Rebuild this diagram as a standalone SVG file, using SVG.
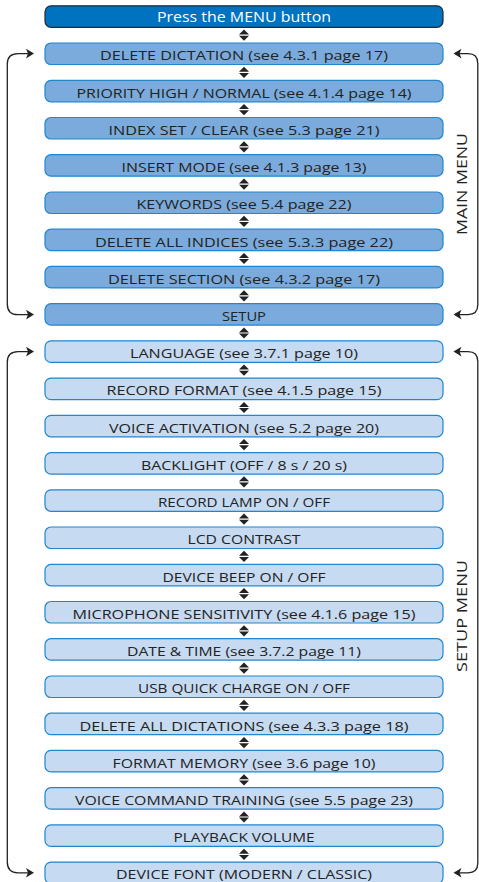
<svg xmlns="http://www.w3.org/2000/svg" xmlns:xlink="http://www.w3.org/1999/xlink" width="479" height="882" viewBox="0 0 479 882">
<style>
.bx rect{stroke:#1f86cf;stroke-width:1.2}
.main rect{fill:#7aabdc}
.setup rect{fill:#c6daf1}
.top rect{fill:#0073c0;stroke:#1d2b3a}
text{font-family:"Open Sans","Liberation Sans",sans-serif;font-size:13.5px;fill:#222;text-anchor:middle}
.top text{fill:#fff;font-size:15px}
.side{font-size:14px}
.con path{fill:none;stroke:#222;stroke-width:1.3}
.ah{fill:#222;stroke:none}
</style>
<defs>
<g id="dbl"><polygon points="-5,-0.6 5,-0.6 0,-5.6" fill="#222"/><polygon points="-5,0.6 5,0.6 0,5.6" fill="#222"/></g>
<polygon id="ahr" points="0,0 -8,-4.8 -6,0 -8,4.8" class="ah"/>
<polygon id="ahl" points="0,0 8,-4.8 6,0 8,4.8" class="ah"/>
</defs>
<g id="n0" class="bx top"><rect x="45" y="5.8" width="398" height="21.5" rx="6"/><text x="244" y="22.3" textLength="174" lengthAdjust="spacingAndGlyphs">Press the MENU button</text></g>
<g id="n1" class="bx main"><rect x="45" y="43" width="398" height="21.5" rx="6"/><text x="244" y="60.3" textLength="288" lengthAdjust="spacingAndGlyphs">DELETE DICTATION (see 4.3.1 page 17)</text></g>
<g id="n2" class="bx main"><rect x="45" y="80.3" width="398" height="21.5" rx="6"/><text x="244" y="97.6" textLength="335" lengthAdjust="spacingAndGlyphs">PRIORITY HIGH / NORMAL (see 4.1.4 page 14)</text></g>
<g id="n3" class="bx main"><rect x="45" y="117.5" width="398" height="21.5" rx="6"/><text x="244" y="134.8" textLength="271" lengthAdjust="spacingAndGlyphs">INDEX SET / CLEAR (see 5.3 page 21)</text></g>
<g id="n4" class="bx main"><rect x="45" y="154.7" width="398" height="21.5" rx="6"/><text x="244" y="172" textLength="245" lengthAdjust="spacingAndGlyphs">INSERT MODE (see 4.1.3 page 13)</text></g>
<g id="n5" class="bx main"><rect x="45" y="192" width="398" height="21.5" rx="6"/><text x="244" y="209.3" textLength="215" lengthAdjust="spacingAndGlyphs">KEYWORDS (see 5.4 page 22)</text></g>
<g id="n6" class="bx main"><rect x="45" y="229.2" width="398" height="21.5" rx="6"/><text x="244" y="246.5" textLength="298" lengthAdjust="spacingAndGlyphs">DELETE ALL INDICES (see 5.3.3 page 22)</text></g>
<g id="n7" class="bx main"><rect x="45" y="266.4" width="398" height="21.5" rx="6"/><text x="244" y="283.7" textLength="272" lengthAdjust="spacingAndGlyphs">DELETE SECTION (see 4.3.2 page 17)</text></g>
<g id="n8" class="bx main"><rect x="45" y="303.6" width="398" height="21.5" rx="6"/><text x="244" y="320.9" textLength="44" lengthAdjust="spacingAndGlyphs">SETUP</text></g>
<g id="n9" class="bx setup"><rect x="45" y="340.9" width="398" height="21.5" rx="6"/><text x="244" y="358.2" textLength="228" lengthAdjust="spacingAndGlyphs">LANGUAGE (see 3.7.1 page 10)</text></g>
<g id="n10" class="bx setup"><rect x="45" y="378.1" width="398" height="21.5" rx="6"/><text x="244" y="395.4" textLength="275" lengthAdjust="spacingAndGlyphs">RECORD FORMAT (see 4.1.5 page 15)</text></g>
<g id="n11" class="bx setup"><rect x="45" y="415.3" width="398" height="21.5" rx="6"/><text x="244" y="432.6" textLength="270" lengthAdjust="spacingAndGlyphs">VOICE ACTIVATION (see 5.2 page 20)</text></g>
<g id="n12" class="bx setup"><rect x="45" y="452.6" width="398" height="21.5" rx="6"/><text x="244" y="469.9" textLength="206" lengthAdjust="spacingAndGlyphs">BACKLIGHT (OFF / 8 s / 20 s)</text></g>
<g id="n13" class="bx setup"><rect x="45" y="489.8" width="398" height="21.5" rx="6"/><text x="244" y="507.1" textLength="172" lengthAdjust="spacingAndGlyphs">RECORD LAMP ON / OFF</text></g>
<g id="n14" class="bx setup"><rect x="45" y="527" width="398" height="21.5" rx="6"/><text x="244" y="544.3" textLength="113" lengthAdjust="spacingAndGlyphs">LCD CONTRAST</text></g>
<g id="n15" class="bx setup"><rect x="45" y="564.3" width="398" height="21.5" rx="6"/><text x="244" y="581.6" textLength="163" lengthAdjust="spacingAndGlyphs">DEVICE BEEP ON / OFF</text></g>
<g id="n16" class="bx setup"><rect x="45" y="601.5" width="398" height="21.5" rx="6"/><text x="244" y="618.8" textLength="343" lengthAdjust="spacingAndGlyphs">MICROPHONE SENSITIVITY (see 4.1.6 page 15)</text></g>
<g id="n17" class="bx setup"><rect x="45" y="638.7" width="398" height="21.5" rx="6"/><text x="244" y="656" textLength="234" lengthAdjust="spacingAndGlyphs">DATE &amp; TIME (see 3.7.2 page 11)</text></g>
<g id="n18" class="bx setup"><rect x="45" y="676" width="398" height="21.5" rx="6"/><text x="244" y="693.3" textLength="212" lengthAdjust="spacingAndGlyphs">USB QUICK CHARGE ON / OFF</text></g>
<g id="n19" class="bx setup"><rect x="45" y="713.2" width="398" height="21.5" rx="6"/><text x="244" y="730.5" textLength="329" lengthAdjust="spacingAndGlyphs">DELETE ALL DICTATIONS (see 4.3.3 page 18)</text></g>
<g id="n20" class="bx setup"><rect x="45" y="750.4" width="398" height="21.5" rx="6"/><text x="244" y="767.7" textLength="263" lengthAdjust="spacingAndGlyphs">FORMAT MEMORY (see 3.6 page 10)</text></g>
<g id="n21" class="bx setup"><rect x="45" y="787.7" width="398" height="21.5" rx="6"/><text x="244" y="805" textLength="338" lengthAdjust="spacingAndGlyphs">VOICE COMMAND TRAINING (see 5.5 page 23)</text></g>
<g id="n22" class="bx setup"><rect x="45" y="824.9" width="398" height="21.5" rx="6"/><text x="244" y="842.2" textLength="141" lengthAdjust="spacingAndGlyphs">PLAYBACK VOLUME</text></g>
<g id="n23" class="bx setup"><rect x="45" y="862.1" width="398" height="21.5" rx="6"/><text x="244" y="879.4" textLength="256" lengthAdjust="spacingAndGlyphs">DEVICE FONT (MODERN / CLASSIC)</text></g>
<g id="labels">
<text class="side" transform="translate(466.5,184) rotate(-90)" textLength="102" lengthAdjust="spacingAndGlyphs">MAIN MENU</text>
<text class="side" transform="translate(466.5,616) rotate(-90)" textLength="112" lengthAdjust="spacingAndGlyphs">SETUP MENU</text>
</g>
<g id="connectors" class="con">
<use xlink:href="#dbl" x="244" y="35.1"/>
<use xlink:href="#dbl" x="244" y="72.4"/>
<use xlink:href="#dbl" x="244" y="109.6"/>
<use xlink:href="#dbl" x="244" y="146.8"/>
<use xlink:href="#dbl" x="244" y="184.1"/>
<use xlink:href="#dbl" x="244" y="221.3"/>
<use xlink:href="#dbl" x="244" y="258.5"/>
<use xlink:href="#dbl" x="244" y="295.8"/>
<use xlink:href="#dbl" x="244" y="333"/>
<use xlink:href="#dbl" x="244" y="370.2"/>
<use xlink:href="#dbl" x="244" y="407.5"/>
<use xlink:href="#dbl" x="244" y="444.7"/>
<use xlink:href="#dbl" x="244" y="481.9"/>
<use xlink:href="#dbl" x="244" y="519.2"/>
<use xlink:href="#dbl" x="244" y="556.4"/>
<use xlink:href="#dbl" x="244" y="593.6"/>
<use xlink:href="#dbl" x="244" y="630.9"/>
<use xlink:href="#dbl" x="244" y="668.1"/>
<use xlink:href="#dbl" x="244" y="705.3"/>
<use xlink:href="#dbl" x="244" y="742.6"/>
<use xlink:href="#dbl" x="244" y="779.8"/>
<use xlink:href="#dbl" x="244" y="817"/>
<use xlink:href="#dbl" x="244" y="854.3"/>
<path d="M28,53.6 H18 Q7.3,53.6 7.3,64.3 V303.9 Q7.3,314.6 18,314.6 H28"/>
<use xlink:href="#ahr" x="34" y="53.6"/>
<use xlink:href="#ahr" x="34" y="314.6"/>
<path d="M28,351.6 H18 Q7.3,351.6 7.3,362.3 V862.1 Q7.3,872.8 18,872.8 H28"/>
<use xlink:href="#ahr" x="34" y="351.6"/>
<use xlink:href="#ahr" x="34" y="872.8"/>
<path d="M459,53.6 H468 Q477.8,53.6 477.8,63.4 V304.8 Q477.8,314.6 468,314.6 H459"/>
<use xlink:href="#ahl" x="453.5" y="53.6"/>
<use xlink:href="#ahl" x="453.5" y="314.6"/>
<path d="M459,351.6 H468 Q477.8,351.6 477.8,361.4 V863 Q477.8,872.8 468,872.8 H459"/>
<use xlink:href="#ahl" x="453.5" y="351.6"/>
<use xlink:href="#ahl" x="453.5" y="872.8"/>
</g>
</svg>
